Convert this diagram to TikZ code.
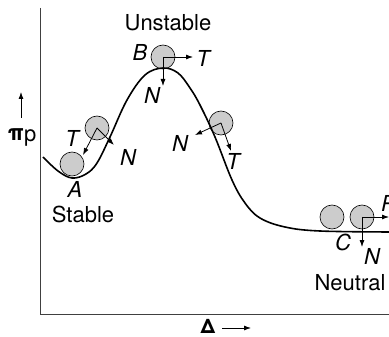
\documentclass[tikz,border=0pt]{standalone}
\usepackage{fontspec}
\setmainfont{TeX Gyre Heros}
\usetikzlibrary{arrows.meta,positioning}
\tikzset{
  ball/.style = {draw=black, fill=gray!40, circle, minimum size=24pt, inner sep=0pt, line width=0.6pt},
  force/.style = {line width=0.8pt, -{Latex[length=7pt,width=5pt]}},
  curve/.style = {line width=1.6pt, line join=round},
  axis/.style = {line width=1pt, draw=black!75},
  lbl/.style = {font=\fontsize{22}{26}\selectfont\itshape, inner sep=0pt},
  state/.style = {font=\fontsize{22}{26}\selectfont, inner sep=0pt}
}

\begin{document}
\begin{tikzpicture}[x=1pt, y=-1pt]
  \useasboundingbox (0,0) rectangle (389,337);
  % axes
  \coordinate (o) at (40,314);
  \coordinate (ytop) at (40,8);
  \coordinate (xend) at (392,314);
  \draw[axis] (ytop) -- (o) -- (xend);
  \node[state, font=\fontsize{22}{26}\selectfont\bfseries] (pi) at (22,137) {π\raisebox{-1pt}{\mdseries p}};
  \coordinate (pibot) at (21,118);
  \coordinate (pitop) at (21,92);
  \draw[force] (pibot) -- (pitop);
  \node[state, font=\fontsize{20}{24}\selectfont\bfseries] (delta) at (208,326) {Δ};
  \coordinate (dleft) at (222,328);
  \coordinate (dright) at (251,328);
  \draw[force] (dleft) -- (dright);
  % balls
  \node[ball] (ballA) at (72,164) {};
  \node[ball] (ballS) at (97,128) {};
  \node[ball] (ballB) at (163,57) {};
  \node[ball] (ballR) at (221,123) {};
  \node[ball] (ballC1) at (332,217) {};
  \node[ball] (ballC2) at (362,217) {};
  % potential curve
  \draw[curve] plot[smooth, tension=0.6] coordinates {(43,157) (58,171) (72,178) (86,174) (97,163) (110,137) (127,100) (145,75) (163,68) (178,73) (190,88) (200,105) (215,137) (232,180) (245,203) (260,218) (285,227) (320,231) (392,232)};
  % forces
  \coordinate (sT) at (83,155);
  \coordinate (sN) at (114,145);
  \coordinate (bT) at (193,57);
  \coordinate (bN) at (163,86);
  \coordinate (rN) at (195,135);
  \coordinate (rT) at (231,151);
  \coordinate (cP) at (389,217);
  \coordinate (cN) at (362,247);
  \draw[force] (ballS.center) -- (sT);
  \draw[force] (ballS.center) -- (sN);
  \draw[force] (ballB.center) -- (bT);
  \draw[force] (ballB.center) -- (bN);
  \draw[force] (ballR.center) -- (rN);
  \draw[force] (ballR.center) -- (rT);
  \draw[force] (ballC2.center) -- (cP);
  \draw[force] (ballC2.center) -- (cN);
  % labels
  \node[lbl] (labA) at (75,189) {A};
  \node[lbl] (labB) at (140,52) {B};
  \node[lbl] (labC) at (343,242) {C};
  \node[lbl] (labsT) at (72,138) {T};
  \node[lbl] (labsN) at (128,157) {N};
  \node[lbl] (labbT) at (203,58) {T};
  \node[lbl] (labbN) at (152,95) {N};
  \node[lbl] (labrN) at (180,143) {N};
  \node[lbl] (labrT) at (233,161) {T};
  \node[lbl, anchor=west] (labcP) at (381,203) {P};
  \node[lbl] (labcN) at (372,256) {N};
  \node[state] (stable) at (83,214) {Stable};
  \node[state] (unstable) at (168,23) {Unstable};
  \node[state] (neutral) at (350,283) {Neutral};
\end{tikzpicture}
\end{document}
